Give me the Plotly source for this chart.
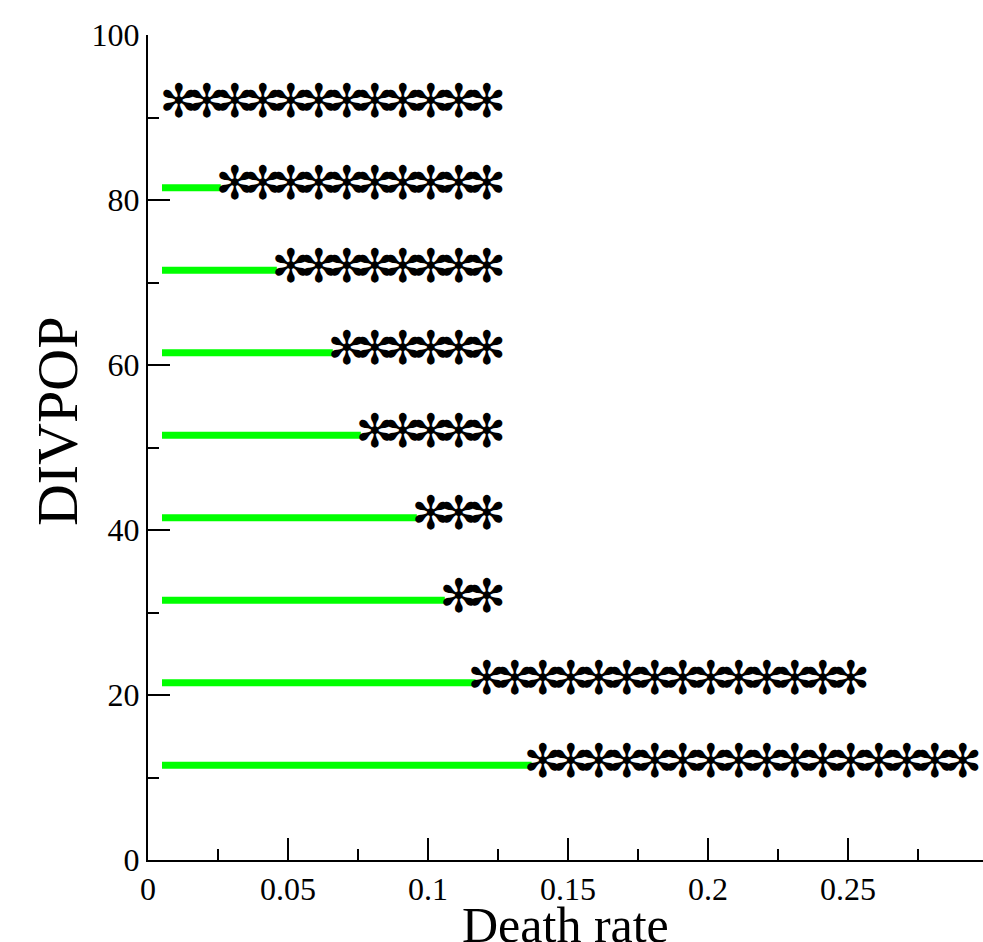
import plotly.graph_objects as go

# Rows of the chart (DIVPOP level)
row_y = [91.5, 81.5, 71.5, 61.5, 51.5, 41.5, 31.5, 21.5, 11.5]
# Green segment: from start to end (None = no segment)
green_start = [None, 0.005, 0.005, 0.005, 0.005, 0.005, 0.005, 0.005, 0.005]
green_end = [None, 0.026, 0.046, 0.066, 0.076, 0.096, 0.106, 0.117, 0.137]
# Asterisk positions (death rate) per row
star_x = [
    [0.011, 0.021, 0.031, 0.041, 0.051, 0.061, 0.071, 0.081, 0.091, 0.101, 0.111, 0.121],
    [0.031, 0.041, 0.051, 0.061, 0.071, 0.081, 0.091, 0.101, 0.111, 0.121],
    [0.051, 0.061, 0.071, 0.081, 0.091, 0.101, 0.111, 0.121],
    [0.071, 0.081, 0.091, 0.101, 0.111, 0.121],
    [0.081, 0.091, 0.101, 0.111, 0.121],
    [0.101, 0.111, 0.121],
    [0.111, 0.121],
    [0.121, 0.131, 0.141, 0.151, 0.161, 0.171, 0.181, 0.191, 0.201, 0.211, 0.221, 0.231, 0.241, 0.251],
    [0.141, 0.151, 0.161, 0.171, 0.181, 0.191, 0.201, 0.211, 0.221, 0.231, 0.241, 0.251, 0.261, 0.271, 0.281, 0.291],
]

SERIF = "Liberation Serif, Times New Roman, serif"

fig = go.Figure()

gx, gy = [], []
for y, s, e in zip(row_y, green_start, green_end):
    if s is None:
        continue
    gx += [s, e, None]
    gy += [y, y, None]
fig.add_trace(go.Scatter(x=gx, y=gy, mode="lines",
                         line=dict(color="#00ff00", width=7),
                         hoverinfo="skip", showlegend=False))

sx, sy = [], []
for y, xs in zip(row_y, star_x):
    sx += xs
    sy += [y] * len(xs)
fig.add_trace(go.Scatter(x=sx, y=sy, mode="text", text=["✻"] * len(sx),
                         textposition="middle center",
                         textfont=dict(family="DejaVu Sans", size=46, color="black"),
                         hoverinfo="skip", showlegend=False))

fig.update_layout(
    width=983, height=942,
    margin=dict(l=148, r=0, t=35, b=82),
    paper_bgcolor="white", plot_bgcolor="white",
    showlegend=False,
    xaxis=dict(range=[0, 0.2982], tickvals=[0, 0.05, 0.1, 0.15, 0.2, 0.25],
               ticktext=["0", "0.05", "0.1", "0.15", "0.2", "0.25"],
               ticks="inside", ticklen=22, tickwidth=2, tickcolor="black",
               minor=dict(dtick=0.025, tick0=0, ticks="inside", ticklen=11,
                          tickwidth=2, tickcolor="black"),
               showline=True, linecolor="black", linewidth=2,
               showgrid=False, zeroline=False,
               tickfont=dict(family=SERIF, size=32, color="black")),
    yaxis=dict(range=[0, 100], tickvals=[0, 20, 40, 60, 80, 100],
               ticks="inside", ticklen=22, tickwidth=2, tickcolor="black",
               minor=dict(dtick=10, tick0=0, ticks="inside", ticklen=11,
                          tickwidth=2, tickcolor="black"),
               showline=True, linecolor="black", linewidth=2,
               showgrid=False, zeroline=False,
               tickfont=dict(family=SERIF, size=32, color="black")),
    annotations=[
        dict(text="Death rate", xref="paper", yref="paper", x=0.5, y=-0.042,
             xanchor="center", yanchor="top", showarrow=False,
             font=dict(family=SERIF, size=50, color="black")),
        dict(text="DIVPOP", xref="paper", yref="paper", x=-0.109, y=0.532,
             xanchor="center", yanchor="middle", showarrow=False, textangle=-90,
             font=dict(family=SERIF, size=58, color="black")),
    ],
)

fig.write_html("out.html")
